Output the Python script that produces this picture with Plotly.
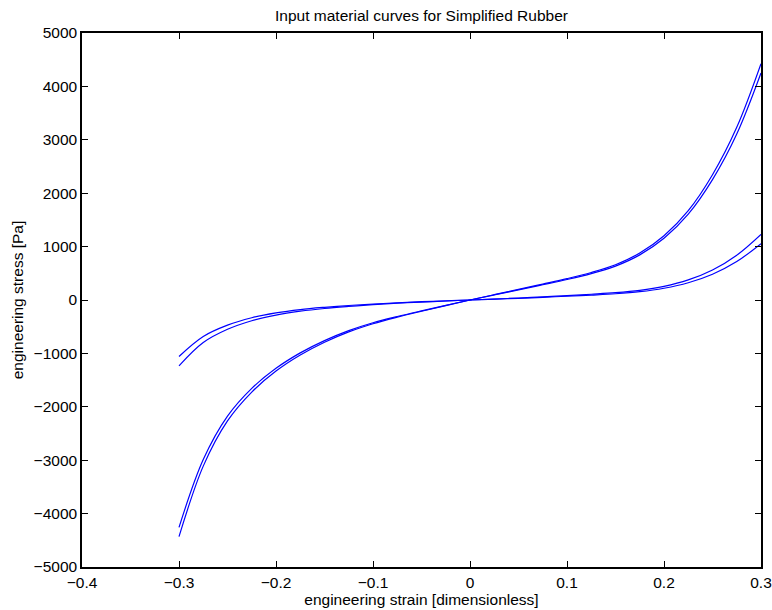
import plotly.graph_objects as go

strain = [-0.300, -0.275, -0.250, -0.225, -0.200, -0.175, -0.150, -0.125, -0.100,
          -0.075, -0.050, -0.025, 0.000, 0.025, 0.050, 0.075, 0.100, 0.125,
          0.150, 0.175, 0.200, 0.225, 0.250, 0.275, 0.300]

stress_steep_outer = [-4432, -3111, -2264, -1724, -1331, -1030, -791, -597, -444,
                      -321, -211, -105, 0, 99, 198, 298, 400, 515,
                      661, 879, 1204, 1673, 2346, 3233, 4425]
stress_steep_inner = [-4258, -2989, -2176, -1656, -1279, -990, -760, -573, -426,
                      -309, -203, -101, 0, 95, 190, 286, 384, 495,
                      635, 845, 1156, 1607, 2254, 3107, 4250]
stress_soft_outer = [-1233, -797, -549, -388, -282, -210, -159, -121, -88,
                     -60, -38, -19, 0, 18, 37, 59, 82, 108,
                     137, 181, 256, 377, 563, 840, 1230]
stress_soft_inner = [-1057, -683, -471, -332, -242, -180, -137, -103, -76,
                     -52, -32, -17, 0, 16, 31, 51, 70, 92,
                     117, 155, 220, 323, 483, 720, 1055]

series = [stress_steep_outer, stress_steep_inner, stress_soft_outer, stress_soft_inner]

title_text = "Input material curves for Simplified Rubber"
x_title = "engineering strain [dimensionless]"
y_title = "engineering stress [Pa]"

fig = go.Figure()
for s in series:
    fig.add_trace(go.Scatter(x=strain, y=s, mode="lines",
                             line=dict(color="#0000ff", width=1.2, shape="spline", smoothing=1.0),
                             showlegend=False, hoverinfo="skip", cliponaxis=False))

font_family = "Liberation Sans, Arial, sans-serif"
fs = 15.5
axis_common = dict(showline=True, mirror="ticks", linecolor="black", linewidth=1.5,
                   ticks="inside", ticklen=6, tickcolor="black", tickwidth=1,
                   showgrid=False, zeroline=False, automargin=False,
                   tickfont=dict(family=font_family, size=fs, color="black"))

W, H = 772, 610
fig.update_layout(
    width=W, height=H,
    margin=dict(l=82, r=11, t=33, b=43, autoexpand=False),
    paper_bgcolor="white", plot_bgcolor="white",
    title=dict(text=title_text, x=(82 + 761) / 2 / W, xanchor="center",
               y=1 - 16 / H, yanchor="middle",
               font=dict(family=font_family, size=fs, color="black")),
    xaxis=dict(range=[-0.4, 0.3], dtick=0.1, tick0=0, ticklabelstandoff=1,
               title=dict(text=x_title, standoff=2,
                          font=dict(family=font_family, size=fs, color="black")),
               **axis_common),
    yaxis=dict(range=[-5000, 5000], dtick=1000, tick0=0,
               title=dict(text=y_title, standoff=6,
                          font=dict(family=font_family, size=fs, color="black")),
               **axis_common),
)

fig.write_html("out.html",
               config={"displayModeBar": False},
               post_script="document.body.style.margin='0';document.body.style.overflow='hidden';")
